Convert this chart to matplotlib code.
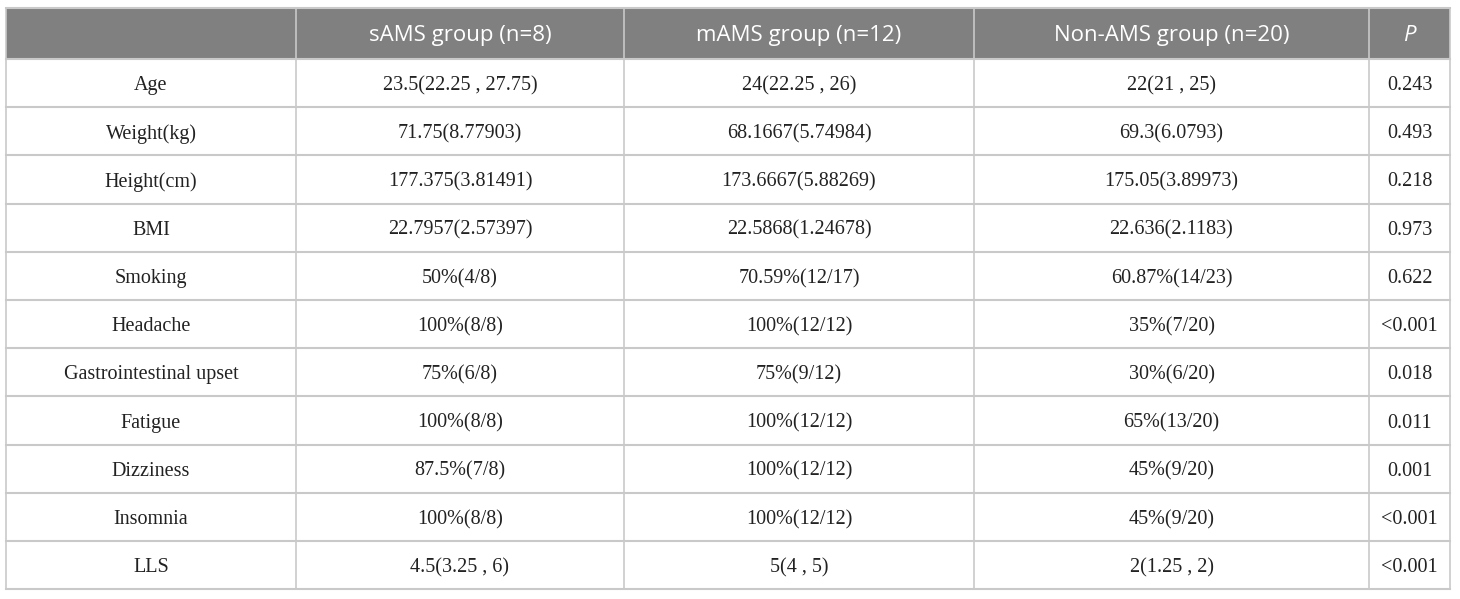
import matplotlib
matplotlib.use('Agg')
import matplotlib.pyplot as plt
from matplotlib.patches import Rectangle

# table content
headers = ['', 'sAMS group (n=8)', 'mAMS group (n=12)', 'Non-AMS group (n=20)', 'P']
variables = ['Age', 'Weight(kg)', 'Height(cm)', 'BMI', 'Smoking', 'Headache',
             'Gastrointestinal upset', 'Fatigue', 'Dizziness', 'Insomnia', 'LLS']
sams = ['23.5(22.25 , 27.75)', '71.75(8.77903)', '177.375(3.81491)', '22.7957(2.57397)',
        '50%(4/8)', '100%(8/8)', '75%(6/8)', '100%(8/8)', '87.5%(7/8)', '100%(8/8)',
        '4.5(3.25 , 6)']
mams = ['24(22.25 , 26)', '68.1667(5.74984)', '173.6667(5.88269)', '22.5868(1.24678)',
        '70.59%(12/17)', '100%(12/12)', '75%(9/12)', '100%(12/12)', '100%(12/12)',
        '100%(12/12)', '5(4 , 5)']
non_ams = ['22(21 , 25)', '69.3(6.0793)', '175.05(3.89973)', '22.636(2.1183)',
           '60.87%(14/23)', '35%(7/20)', '30%(6/20)', '65%(13/20)', '45%(9/20)',
           '45%(9/20)', '2(1.25 , 2)']
p_values = ['0.243', '0.493', '0.218', '0.973', '0.622', '<0.001', '0.018', '0.011',
            '0.001', '<0.001', '<0.001']

# layout in pixels
col_edges = [6, 296, 624, 974, 1369, 1450]
top = 8
header_h = 51
row_h = 48.2
line_col = '#c9c9c9'

fig = plt.figure(figsize=(14.6, 5.99), dpi=100)
ax = fig.add_axes([0, 0, 1, 1])
ax.set_xlim(0, 1460)
ax.set_ylim(599, 0)
ax.axis('off')

# header band
ax.add_patch(Rectangle((col_edges[0], top), col_edges[-1] - col_edges[0], header_h,
                       facecolor='#808080', edgecolor='none'))
for i, h in enumerate(headers):
    xc = (col_edges[i] + col_edges[i + 1]) / 2
    ax.text(xc, top + header_h / 2 + 2, h, ha='center', va='center', color='white',
            fontsize=16, family='Open Sans', style='italic' if h == 'P' else 'normal')

rows = list(zip(variables, sams, mams, non_ams, p_values))
y0 = top + header_h
for r, vals in enumerate(rows):
    yc = y0 + r * row_h + row_h / 2
    for i, v in enumerate(vals):
        xc = (col_edges[i] + col_edges[i + 1]) / 2
        ax.text(xc, yc + 2.5, v, ha='center', va='center', color='#222222',
                fontsize=14.5, family='Liberation Serif')

bottom = y0 + len(rows) * row_h
# horizontal lines
ax.plot([col_edges[0], col_edges[-1]], [top, top], color=line_col, lw=1.5)
for r in range(len(rows) + 1):
    y = y0 + r * row_h
    ax.plot([col_edges[0], col_edges[-1]], [y, y], color=line_col, lw=1.5)
# vertical lines
for x in col_edges:
    ax.plot([x, x], [top, bottom], color=line_col, lw=1.2)

fig.savefig('out.png', dpi=100, facecolor='white')
